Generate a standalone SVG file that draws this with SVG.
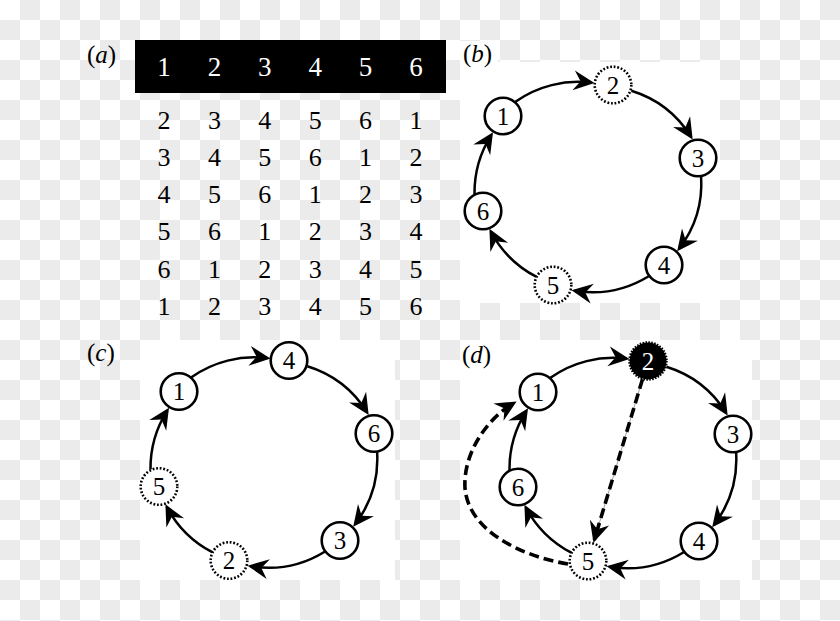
<svg xmlns="http://www.w3.org/2000/svg" width="840" height="621" viewBox="0 0 840 621">
<style>
.lbl{font-family:"Liberation Serif","Times New Roman",serif;font-size:25px;}
.hd{font-family:"Liberation Serif","Times New Roman",serif;font-size:27px;fill:#fff;text-anchor:middle;}
.bd{font-family:"Liberation Serif","Times New Roman",serif;font-size:26px;fill:#000;text-anchor:middle;}
.solid{fill:#fff;stroke:#000;stroke-width:2.6;}
.dotted{fill:#fff;stroke:#000;stroke-width:2.6;stroke-dasharray:1.8 1.8;}
.blk{fill:#000;stroke:#000;stroke-width:2.6;stroke-dasharray:1.5 1.4;}
.node text{font-family:"Liberation Serif","Times New Roman",serif;font-size:25px;text-anchor:middle;fill:#000;}
.node text.w{fill:#fff;}
.edge{fill:none;stroke:#000;stroke-width:2.5;marker-end:url(#ah);}
.dash{fill:none;stroke:#000;stroke-width:3.6;stroke-dasharray:10 5;marker-end:url(#ah);}
.hair{fill:none;stroke:#a0a0a0;stroke-width:1;}
</style>
<defs>
<pattern id="chk" x="0" y="0" width="40" height="40" patternUnits="userSpaceOnUse">
<rect width="40" height="40" fill="#fff"/>
<rect x="20" y="0" width="20" height="20" fill="#ebebeb"/>
<rect x="0" y="20" width="20" height="20" fill="#ebebeb"/>
</pattern>
<marker id="ah" viewBox="-22 -12 26 24" refX="0" refY="0" markerWidth="26" markerHeight="24" markerUnits="userSpaceOnUse" orient="auto">
<path d="M3,0 L-18,-10 L-11,0 L-18,10 Z" fill="#000"/>
</marker>
</defs>

<g id="background">
<rect width="840" height="621" fill="url(#chk)"/>
<rect x="460" y="62" width="260" height="241" fill="#fff"/>
<rect x="460" y="41" width="38" height="22" fill="#fff"/>
<rect x="140" y="340" width="255" height="240" fill="#fff"/>
<rect x="460" y="340" width="292" height="240" fill="#fff"/>
</g>

<g id="labels">
<text class="lbl" x="87" y="63">(<tspan font-style="italic">a</tspan>)</text>
<text class="lbl" x="463" y="62">(<tspan font-style="italic">b</tspan>)</text>
<text class="lbl" x="87" y="361">(<tspan font-style="italic">c</tspan>)</text>
<text class="lbl" x="462" y="363">(<tspan font-style="italic">d</tspan>)</text>
</g>

<g id="table">
<rect x="135" y="40" width="311" height="53" fill="#000"/>
<g class="hd">
<text x="164" y="76">1</text><text x="214.4" y="76">2</text><text x="264.8" y="76">3</text><text x="315.2" y="76">4</text><text x="365.6" y="76">5</text><text x="416" y="76">6</text>
</g>
<g class="bd">
<text x="164" y="128.5">2</text><text x="214.4" y="128.5">3</text><text x="264.8" y="128.5">4</text><text x="315.2" y="128.5">5</text><text x="365.6" y="128.5">6</text><text x="416" y="128.5">1</text>
<text x="164" y="165.8">3</text><text x="214.4" y="165.8">4</text><text x="264.8" y="165.8">5</text><text x="315.2" y="165.8">6</text><text x="365.6" y="165.8">1</text><text x="416" y="165.8">2</text>
<text x="164" y="203.1">4</text><text x="214.4" y="203.1">5</text><text x="264.8" y="203.1">6</text><text x="315.2" y="203.1">1</text><text x="365.6" y="203.1">2</text><text x="416" y="203.1">3</text>
<text x="164" y="240.4">5</text><text x="214.4" y="240.4">6</text><text x="264.8" y="240.4">1</text><text x="315.2" y="240.4">2</text><text x="365.6" y="240.4">3</text><text x="416" y="240.4">4</text>
<text x="164" y="277.7">6</text><text x="214.4" y="277.7">1</text><text x="264.8" y="277.7">2</text><text x="315.2" y="277.7">3</text><text x="365.6" y="277.7">4</text><text x="416" y="277.7">5</text>
<text x="164" y="315">1</text><text x="214.4" y="315">2</text><text x="264.8" y="315">3</text><text x="315.2" y="315">4</text><text x="365.6" y="315">5</text><text x="416" y="315">6</text>
</g>
</g>

<g id="connectors">
<g id="b-edges">
<path class="edge" d="M515.4,101.8 A108,108 0 0 1 591.5,82.7"/>
<path class="edge" d="M631.4,90.8 A108,108 0 0 1 691.1,136.9"/>
<path class="edge" d="M701.1,176.4 A108,108 0 0 1 679,248.9"/>
<path class="edge" d="M648.7,276.2 A108,108 0 0 1 574.5,290.7"/>
<path class="edge" d="M536.2,276.7 A108,108 0 0 1 490.8,231.5"/>
<path class="edge" d="M474.5,194 A108,108 0 0 1 491.4,134.8"/>
</g>
<g id="c-edges" transform="translate(-324,275.5)">
<path class="edge" d="M515.4,101.8 A108,108 0 0 1 591.5,82.7"/>
<path class="edge" d="M631.4,90.8 A108,108 0 0 1 691.1,136.9"/>
<path class="edge" d="M701.1,176.4 A108,108 0 0 1 679,248.9"/>
<path class="edge" d="M648.7,276.2 A108,108 0 0 1 574.5,290.7"/>
<path class="edge" d="M536.2,276.7 A108,108 0 0 1 490.8,231.5"/>
<path class="edge" d="M474.5,194 A108,108 0 0 1 491.4,134.8"/>
</g>
<g id="d-edges" transform="translate(35,276)">
<path class="edge" d="M515.4,101.8 A108,108 0 0 1 591.5,82.7"/>
<path class="edge" d="M631.4,90.8 A108,108 0 0 1 691.1,136.9"/>
<path class="edge" d="M701.1,176.4 A108,108 0 0 1 679,248.9"/>
<path class="edge" d="M648.7,276.2 A108,108 0 0 1 574.5,290.7"/>
<path class="edge" d="M536.2,276.7 A108,108 0 0 1 490.8,231.5"/>
<path class="edge" d="M474.5,194 A108,108 0 0 1 491.4,134.8"/>
</g>
<g id="d-dashed">
<line class="hair" x1="642.5" y1="379.2" x2="594.3" y2="539.9"/>
<path class="dash" d="M642.5,379.2 L594.3,539.9"/>
<path class="dash" d="M568,564 C520,556 468,530 465,488 C463,455 485,420 514,403"/>
</g>
</g>

<g id="nodes">
<g id="b-n1" class="node" transform="translate(503,116)"><circle r="18.3" class="solid"/><text y="8.5">1</text></g>
<g id="b-n2" class="node" transform="translate(613,85)"><circle r="18.3" class="dotted"/><text y="8.5">2</text></g>
<g id="b-n3" class="node" transform="translate(698,158)"><circle r="18.3" class="solid"/><text y="8.5">3</text></g>
<g id="b-n4" class="node" transform="translate(664,265)"><circle r="18.3" class="solid"/><text y="8.5">4</text></g>
<g id="b-n5" class="node" transform="translate(553,285)"><circle r="18.3" class="dotted"/><text y="8.5">5</text></g>
<g id="b-n6" class="node" transform="translate(483,211)"><circle r="18.3" class="solid"/><text y="8.5">6</text></g>

<g id="c-n1" class="node" transform="translate(179,391.5)"><circle r="18.3" class="solid"/><text y="8.5">1</text></g>
<g id="c-n4" class="node" transform="translate(289,360.5)"><circle r="18.3" class="solid"/><text y="8.5">4</text></g>
<g id="c-n6" class="node" transform="translate(374,433.5)"><circle r="18.3" class="solid"/><text y="8.5">6</text></g>
<g id="c-n3" class="node" transform="translate(340,540.5)"><circle r="18.3" class="solid"/><text y="8.5">3</text></g>
<g id="c-n2" class="node" transform="translate(229,560.5)"><circle r="18.3" class="dotted"/><text y="8.5">2</text></g>
<g id="c-n5" class="node" transform="translate(159,486.5)"><circle r="18.3" class="dotted"/><text y="8.5">5</text></g>

<g id="d-n1" class="node" transform="translate(538,392)"><circle r="18.3" class="solid"/><text y="8.5">1</text></g>
<g id="d-n2" class="node" transform="translate(648,361)"><circle r="18.5" class="blk"/><text class="w" y="8.5">2</text></g>
<g id="d-n3" class="node" transform="translate(733,434)"><circle r="18.3" class="solid"/><text y="8.5">3</text></g>
<g id="d-n4" class="node" transform="translate(699,541)"><circle r="18.3" class="solid"/><text y="8.5">4</text></g>
<g id="d-n5" class="node" transform="translate(588,561)"><circle r="18.3" class="dotted"/><text y="8.5">5</text></g>
<g id="d-n6" class="node" transform="translate(518,487)"><circle r="18.3" class="solid"/><text y="8.5">6</text></g>
</g>
</svg>
